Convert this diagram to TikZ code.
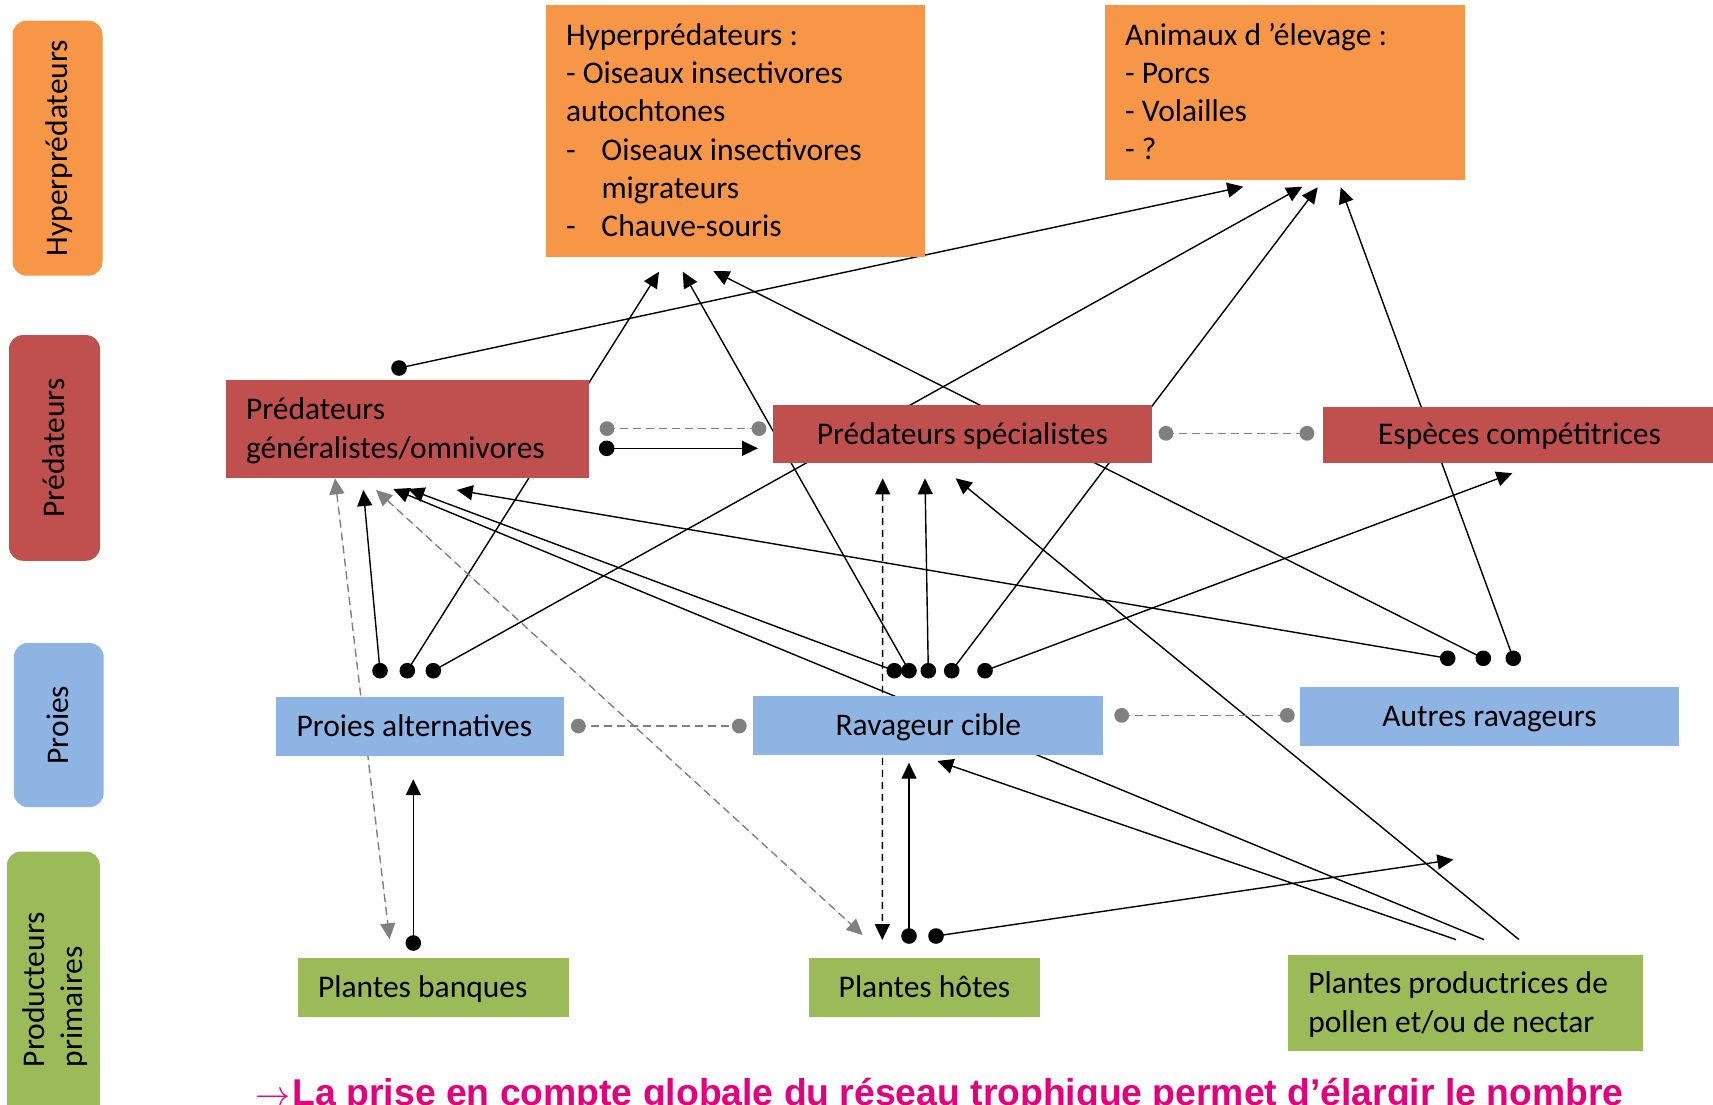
\documentclass[tikz,border=0pt]{standalone}
\usepackage{graphicx}
\usepackage{fontspec}
\setmainfont{Carlito}
\newfontfamily\concfont{Liberation Sans}
\usetikzlibrary{arrows.meta}
\definecolor{orangebox}{RGB}{247,150,70}
\definecolor{redbox}{RGB}{192,80,77}
\definecolor{bluebox}{RGB}{142,180,227}
\definecolor{greenbox}{RGB}{155,187,89}
\definecolor{dotgray}{RGB}{128,128,128}
\definecolor{magentatext}{RGB}{228,0,124}
\newcommand\mystrut{\rule[-9pt]{0pt}{37.9pt}}
\newcommand\fixsp{\spaceskip=0pt\xspaceskip=0pt\relax}
\newcommand\mainsize{\fontsize{31.5}{38.3}\selectfont}
\pgfdeclarelayer{back}
\pgfsetlayers{back,main}
\begin{document}
\begin{tikzpicture}[x=1pt,y=-1pt,
  every node/.style={inner sep=0pt, outer sep=0pt, font=\mainsize},
  hyperbox/.style={fill=orangebox},
  predbox/.style={fill=redbox},
  preybox/.style={fill=bluebox},
  plantbox/.style={fill=greenbox},
  sidelab/.style={rounded corners=14pt, rotate=90},
  dotb/.style={circle, fill=black, minimum size=15.6pt},
  dotg/.style={circle, fill=dotgray, minimum size=14.8pt},
  link/.style={line width=1.4pt, -{Triangle[length=16pt,width=15pt]}},
  glink/.style={line width=1.4pt, draw=dotgray, dash pattern=on 8pt off 5pt},
  garrow/.style={line width=1.4pt, draw=dotgray, fill=dotgray, dash pattern=on 8pt off 5pt,
     {Triangle[length=16pt,width=15pt]}-{Triangle[length=16pt,width=15pt]}},
  darrow/.style={line width=1.4pt, dash pattern=on 7pt off 5pt,
     {Triangle[length=16pt,width=15pt]}-{Triangle[length=16pt,width=15pt]}}
]
\useasboundingbox (0,0) rectangle (1713,1104);
\clip (0,0) rectangle (1713,1104);

% ---- side labels
\node[sidelab, fill=orangebox, minimum width=255pt, minimum height=90pt] (L1) at (57.5,148.2) {\mystrut Hyperprédateurs};
\node[sidelab, fill=redbox, minimum width=225.7pt, minimum height=91pt] (L2) at (54.5,447.9) {\mystrut Prédateurs};
\node[sidelab, fill=bluebox, minimum width=164pt, minimum height=89.9pt] (L3) at (58.75,725) {\mystrut Proies};
\node[rounded corners=14pt, fill=greenbox, minimum width=93pt, minimum height=278.5pt] (L4) at (53.4,990.75) {};
\node[rotate=90, anchor=west, align=left] (L4t) at (53.5,1067) {\fixsp\mystrut Producteurs\\\mystrut primaires};

% ---- main boxes
\node[hyperbox, minimum width=379pt, minimum height=252.3pt, text width=339pt, align=left, inner xsep=20pt] (hyper) at (735.5,131.15)
 {\noindent\fixsp\mystrut Hyperprédateurs :\\
  \mystrut - Oiseaux insectivores\\
  \mystrut autochtones\\
  \mystrut\makebox[35.5pt][l]{-}Oiseaux insectivores\\
  \mystrut\hspace*{35.5pt}migrateurs\\
  \mystrut\makebox[35.5pt][l]{-}Chauve-souris};
\node[hyperbox, minimum width=360pt, minimum height=175pt, text width=320pt, align=left, inner xsep=20pt] (anim) at (1285,92.5)
 {\noindent\fixsp\mystrut Animaux d ’élevage :\\
  \mystrut - Porcs\\
  \mystrut - Volailles\\
  \mystrut - ?};
\node[predbox, minimum width=362.7pt, minimum height=97.3pt, text width=322.7pt, align=left, inner xsep=20pt] (gen) at (407.35,429.05)
 {\noindent\fixsp\mystrut Prédateurs\\\mystrut généralistes/omnivores};
\node[predbox, minimum width=378.7pt, minimum height=58.3pt] (spec) at (962.35,434.15) {\mystrut Prédateurs spécialistes};
\node[predbox, minimum width=393pt, minimum height=55.5pt] (comp) at (1519.5,434.75) {\mystrut Espèces compétitrices};
\node[preybox, minimum width=288pt, minimum height=58.7pt, text width=247pt, align=left, inner xsep=20.5pt] (palt) at (420,726.65)
 {\noindent\fixsp\mystrut Proies alternatives};
\node[preybox, minimum width=350pt, minimum height=59pt] (rav) at (928.3,725.5) {\mystrut Ravageur cible};
\node[preybox, minimum width=379pt, minimum height=58.7pt] (autres) at (1489.5,716.65) {\mystrut Autres ravageurs};
\node[plantbox, minimum width=271pt, minimum height=58.6pt, text width=231pt, align=left, inner xsep=20pt] (pban) at (433.5,987.3)
 {\noindent\fixsp\mystrut Plantes banques};
\node[plantbox, minimum width=231pt, minimum height=58.3pt] (phot) at (924.5,987.45) {\mystrut Plantes hôtes};
\node[plantbox, minimum width=354.3pt, minimum height=96pt, text width=314.3pt, align=left, inner xsep=20pt] (ppol) at (1465.45,1003)
 {\noindent\fixsp\mystrut Plantes productrices de\\\mystrut pollen et/ou de nectar};

% ---- dots
\node[dotb] (gd) at (399,368) {};
\node[dotb] (gs) at (606.7,448.3) {};
\node[dotb] (pa1) at (380,670.7) {};
\node[dotb] (pa2) at (407.3,670.7) {};
\node[dotb] (pa3) at (433.3,670.7) {};
\node[dotb] (rv1) at (894.3,670.7) {};
\node[dotb] (rv2) at (909,670.7) {};
\node[dotb] (rv3) at (928.3,670.7) {};
\node[dotb] (rv4) at (951.7,670.7) {};
\node[dotb] (rv5) at (985,670.7) {};
\node[dotb] (ar1) at (1447.7,658.3) {};
\node[dotb] (ar2) at (1483.3,658.3) {};
\node[dotb] (ar3) at (1513.3,658.3) {};
\node[dotb] (pb) at (413.3,943) {};
\node[dotb] (ph1) at (909,936) {};
\node[dotb] (ph2) at (936,936) {};
\node[dotg] (g1a) at (607,428.6) {};
\node[dotg] (g1b) at (759,428.6) {};
\node[dotg] (g2a) at (1166,433.3) {};
\node[dotg] (g2b) at (1307,433.3) {};
\node[dotg] (g3a) at (578.3,726) {};
\node[dotg] (g3b) at (739.3,726) {};
\node[dotg] (g4a) at (1121.7,715.3) {};
\node[dotg] (g4b) at (1287.3,715.3) {};

% ---- arrow tips / free ends
\coordinate (tA1) at (1243.3,186.7);
\coordinate (tA2) at (1302.3,186.7);
\coordinate (tA3) at (1317.7,187.3);
\coordinate (tA4) at (1340.7,187.3);
\coordinate (tH1) at (659,271.7);
\coordinate (tH2) at (682.7,271.7);
\coordinate (tH3) at (713.3,271);
\coordinate (tG0) at (335,478.3);
\coordinate (tG1) at (363.3,490);
\coordinate (tG2) at (376,490);
\coordinate (tG3) at (393.3,489);
\coordinate (tG4) at (408.3,489);
\coordinate (tG5) at (456.7,490);
\coordinate (tS0) at (758,448.3);
\coordinate (tS1) at (882.7,478.3);
\coordinate (tS2) at (925,478.3);
\coordinate (tS3) at (955.7,478.3);
\coordinate (tC) at (1512.4,473.2);
\coordinate (tP) at (413.3,779.2);
\coordinate (tR1) at (909,762.7);
\coordinate (tR2) at (937.3,761);
\coordinate (tX) at (1453.4,859.6);
\coordinate (tPB) at (389.6,939.3);
\coordinate (tPH) at (882.3,940);
\coordinate (tPH2) at (862.7,935);
\coordinate (pp1) at (1456,939.6);
\coordinate (pp2) at (1484,939.6);
\coordinate (pp3) at (1519,939.6);

\begin{pgfonlayer}{back}
\draw[link] (gd.center) -- (tA1);
\draw[link] (gs.center) -- (tS0);
\draw[link] (pa1.center) -- (tG1);
\draw[link] (pa2.center) -- (tH1);
\draw[link] (pa3.center) -- (tA2);
\draw[link] (rv1.center) -- (tG4);
\draw[link] (rv2.center) -- (tH2);
\draw[link] (rv3.center) -- (tS2);
\draw[link] (rv4.center) -- (tA3);
\draw[link] (rv5.center) -- (tC);
\draw[link] (ar1.center) -- (tG5);
\draw[link] (ar2.center) -- (tH3);
\draw[link] (ar3.center) -- (tA4);
\draw[link] (pb.center) -- (tP);
\draw[link] (ph1.center) -- (tR1);
\draw[link] (ph2.center) -- (tX);
\draw[link] (pp1) -- (tR2);
\draw[link] (pp2) -- (tG3);
\draw[link] (pp3) -- (tS3);
\draw[darrow] (tS1) -- (tPH);
\draw[garrow] (tG0) -- (tPB);
\draw[garrow] (tG2) -- (tPH2);
\draw[glink] (g1a.center) -- (g1b.center);
\draw[glink] (g2a.center) -- (g2b.center);
\draw[glink] (g3a.center) -- (g3b.center);
\draw[glink] (g4a.center) -- (g4b.center);
\end{pgfonlayer}

% ---- conclusion line (cut by the frame, as in the reference)
\node[anchor=base west, text=magentatext, font=\concfont\bfseries\fontsize{37.3}{40}\selectfont] (concl) at (255,1105)
 {\makebox[37.8pt][l]{\resizebox{35pt}{!}{$\rightarrow$}}La prise en compte globale du réseau trophique permet d’élargir le nombre};
\end{tikzpicture}
\end{document}
